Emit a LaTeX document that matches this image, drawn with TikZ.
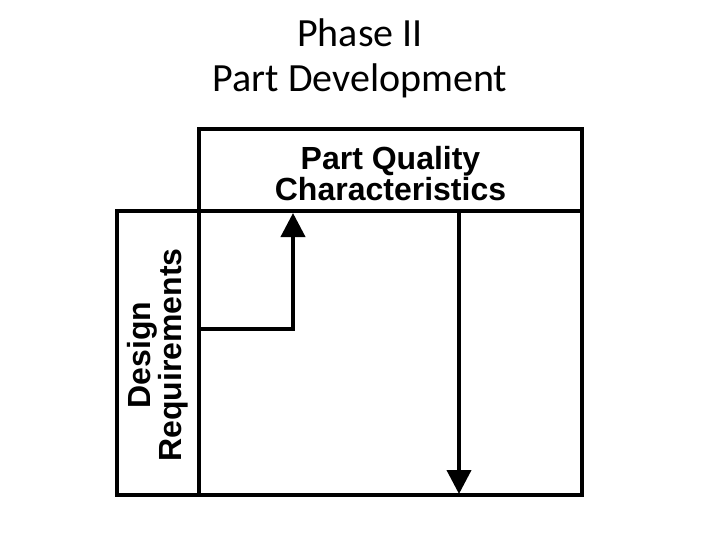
\documentclass[tikz,border=0pt]{standalone}
\usepackage{fontspec}
\setmainfont{Carlito}
\newfontfamily\arialb{Liberation Sans}
\usetikzlibrary{arrows.meta}
\begin{document}
\begin{tikzpicture}[x=1pt,y=-1pt,
  boxstyle/.style={draw=black, line width=4.5pt, inner sep=0pt, outer sep=0pt, fill=white},
  lbl/.style={font=\arialb\bfseries\fontsize{32}{31}\selectfont, align=center, inner sep=0pt},
  conn/.style={draw=black, line width=4pt, -{Triangle[width=24pt,length=24pt]}},
  ttl/.style={font=\fontsize{40}{45}\selectfont, align=center, inner sep=0pt}]
\useasboundingbox (0,0) rectangle (720,540);
\node[ttl] (title) at (360,58) {Phase II\\Part Development};
\node[boxstyle, minimum width=383pt, minimum height=82pt] (top) at (390.5,170) {};
\node[lbl] (toptext) at (390.5,174) {Part Quality\\Characteristics};
\node[boxstyle, minimum width=383pt, minimum height=284pt] (main) at (390.5,353) {};
\node[boxstyle, rotate=90, minimum width=284pt, minimum height=82pt] (left) at (158,353) {};
\node[lbl, rotate=90] (lefttext) at (157.5,355) {Design\\Requirements};
\coordinate (c1) at (199,329);
\coordinate (c2) at (293,329);
\coordinate (c3) at (293,213);
\coordinate (d1) at (459,211);
\coordinate (d2) at (459,494);
\draw[conn] (c1) -- (c2) -- (c3);
\draw[conn] (d1) -- (d2);
\end{tikzpicture}
\end{document}
